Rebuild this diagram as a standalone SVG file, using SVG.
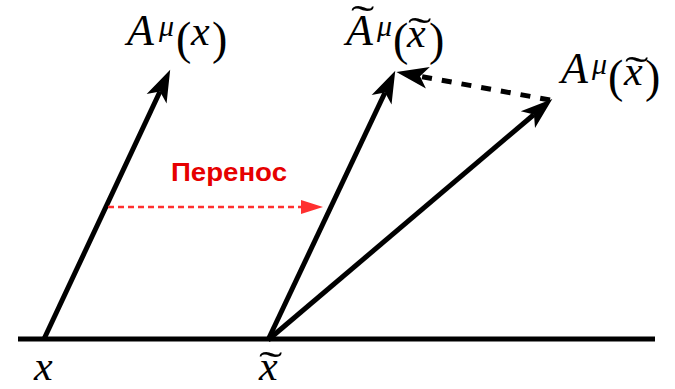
<svg xmlns="http://www.w3.org/2000/svg" width="675" height="389" viewBox="0 0 675 389">
<style>
.m{font-family:"Liberation Serif","DejaVu Serif",serif;font-style:italic;fill:#000}
.u{font-family:"Liberation Serif","DejaVu Serif",serif;font-style:normal;fill:#000}
.vec{stroke:#000;stroke-width:5;fill:none}
.red{stroke:#ff3030;stroke-width:2.5;fill:none;stroke-dasharray:6 4}
</style>
<defs>
<marker id="head" markerUnits="userSpaceOnUse" viewBox="-10 -12 36 24" refX="0" refY="0" markerWidth="36" markerHeight="24" orient="auto" overflow="visible">
<path d="M24,0 L-8,-11 L0,0 L-8,11 Z" fill="#000"/>
</marker>
<marker id="rhead" markerUnits="userSpaceOnUse" viewBox="-2 -8 26 16" refX="0" refY="0" markerWidth="26" markerHeight="16" orient="auto" overflow="visible">
<path d="M21,0 L-1,-7 L-1,7 Z" fill="#ff3030"/>
</marker>
</defs>
<g id="axis"><line x1="18" y1="339" x2="655" y2="339" stroke="#000" stroke-width="5"/></g>
<g id="connectors">
<line class="vec" x1="44" y1="339" x2="160" y2="91.5" marker-end="url(#head)"/>
<line class="vec" x1="268" y1="340" x2="385" y2="92.5" marker-end="url(#head)"/>
<line class="vec" x1="268" y1="340" x2="534" y2="114.5" marker-end="url(#head)"/>
<line class="vec" x1="550" y1="100" x2="420" y2="76.3" stroke-dasharray="10 10" marker-end="url(#head)"/>
<line class="red" x1="108" y1="207" x2="302" y2="207" marker-end="url(#rhead)"/>
</g>
<g id="label-transfer"><text x="229" y="181" text-anchor="middle" font-family="Liberation Sans,Arial,sans-serif" font-weight="bold" font-size="25" fill="#e60000" textLength="116" lengthAdjust="spacingAndGlyphs">Перенос</text></g>
<g id="label-Ax">
<text class="m" x="127" y="45" font-size="44">A</text>
<text class="m" x="159" y="36" font-size="30">μ</text>
<text class="u" x="176" y="54" font-size="46">(</text>
<text class="m" x="191" y="45" font-size="42">x</text>
<text class="u" x="212" y="54" font-size="46">)</text>
</g>
<g id="label-Atilde">
<text class="m" x="346" y="45" font-size="44">A</text>
<text class="u" x="351" y="33" font-size="40" transform="translate(351 0) scale(1.75 1) translate(-351 0)">˜</text>
<text class="m" x="377" y="36" font-size="30">μ</text>
<text class="u" x="393" y="55" font-size="46">(</text>
<text class="m" x="407" y="47" font-size="42">x</text>
<text class="u" x="408" y="45" font-size="40" transform="translate(408 0) scale(1.75 1) translate(-408 0)">˜</text>
<text class="u" x="429" y="55" font-size="46">)</text>
</g>
<g id="label-Axt">
<text class="m" x="561" y="83" font-size="44">A</text>
<text class="m" x="592" y="74" font-size="30">μ</text>
<text class="u" x="608" y="92" font-size="46">(</text>
<text class="m" x="624" y="85" font-size="42">x</text>
<text class="u" x="625" y="84" font-size="40" transform="translate(625 0) scale(1.75 1) translate(-625 0)">˜</text>
<text class="u" x="645" y="92" font-size="46">)</text>
</g>
<g id="label-x">
<text class="m" x="34" y="380" font-size="42">x</text>
</g>
<g id="label-xt">
<text class="m" x="259" y="380" font-size="42">x</text>
<text class="u" x="259" y="379" font-size="40" transform="translate(259 0) scale(1.75 1) translate(-259 0)">˜</text>
</g>
</svg>
